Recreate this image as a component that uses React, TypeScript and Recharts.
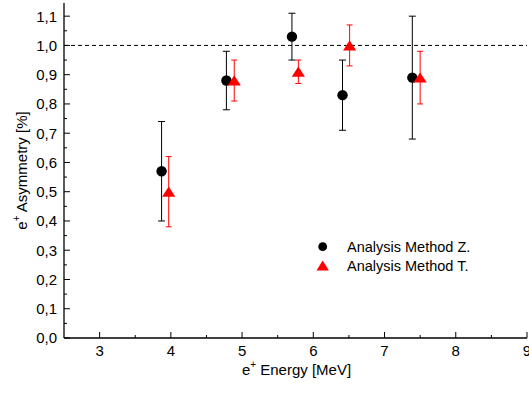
import React from 'react';
import { ScatterChart, Scatter, XAxis, YAxis, ErrorBar, ReferenceLine, Legend } from 'recharts';

// Analysis Method Z. (black circles)
const zEnergy = [3.87, 4.78, 5.70, 6.41, 7.39];
const zAsym = [0.57, 0.88, 1.03, 0.83, 0.89];
const zErr = [0.17, 0.10, 0.08, 0.12, 0.21];

// Analysis Method T. (red triangles)
const tEnergy = [3.97, 4.89, 5.79, 6.51, 7.50];
const tAsym = [0.50, 0.88, 0.91, 1.00, 0.89];
const tErr = [0.12, 0.07, 0.04, 0.07, 0.09];

const seriesNames = ['Analysis Method Z.', 'Analysis Method T.'];

const xMajorTicks = [3, 4, 5, 6, 7, 8, 9];
const xMinorTicks = [3.5, 4.5, 5.5, 6.5, 7.5, 8.5];
const yMajorTicks = [0, 0.1, 0.2, 0.3, 0.4, 0.5, 0.6, 0.7, 0.8, 0.9, 1.0, 1.1];
const yMajorLabels = ['0,0', '0,1', '0,2', '0,3', '0,4', '0,5', '0,6', '0,7', '0,8', '0,9', '1,0', '1,1'];
const yMinorTicks = [0.05, 0.15, 0.25, 0.35, 0.45, 0.55, 0.65, 0.75, 0.85, 0.95, 1.05];

const xDomain = [2.5, 9];
const yDomain = [0, 1.145];
const refValue = 1.0;

const zData = zEnergy.map((x, i) => ({ x, y: zAsym[i], err: zErr[i] }));
const tData = tEnergy.map((x, i) => ({ x, y: tAsym[i], err: tErr[i] }));

const xTicks = [...xMajorTicks, ...xMinorTicks].sort((a, b) => a - b);
const yTicks = [...yMajorTicks, ...yMinorTicks].sort((a, b) => a - b);

const FONT = "Arial, 'Liberation Sans', Helvetica, sans-serif";
const MAJOR = 6;
const MINOR = 3;

const isXMajor = (v: number) => xMajorTicks.some((t) => Math.abs(t - v) < 1e-9);
const yMajorIndex = (v: number) => yMajorTicks.findIndex((t) => Math.abs(t - v) < 1e-9);

const BottomTick = (p: any) => {
  const { x, y, payload } = p;
  const major = isXMajor(payload.value);
  return (
    <g>
      <line x1={x} x2={x} y1={y} y2={y - (major ? MAJOR : MINOR)} stroke="#000" strokeWidth={1} />
      {major && (
        <text x={x} y={y + 17.5} textAnchor="middle" fontSize={15} fontFamily={FONT} fill="#000">
          {payload.value}
        </text>
      )}
    </g>
  );
};

const TopTick = (p: any) => {
  const { x, y, payload } = p;
  const major = isXMajor(payload.value);
  return <line x1={x} x2={x} y1={y} y2={y + (major ? MAJOR : MINOR)} stroke="#000" strokeWidth={1} />;
};

const LeftTick = (p: any) => {
  const { x, y, payload } = p;
  const idx = yMajorIndex(payload.value);
  const major = idx >= 0;
  return (
    <g>
      <line x1={x} x2={x + (major ? MAJOR : MINOR)} y1={y} y2={y} stroke="#000" strokeWidth={1} />
      {major && (
        <text x={x - 7} y={y + 5.4} textAnchor="end" fontSize={15} fontFamily={FONT} fill="#000">
          {yMajorLabels[idx]}
        </text>
      )}
    </g>
  );
};

const RightTick = (p: any) => {
  const { x, y, payload } = p;
  const major = yMajorIndex(payload.value) >= 0;
  return <line x1={x} x2={x - (major ? MAJOR : MINOR)} y1={y} y2={y} stroke="#000" strokeWidth={1} />;
};

const XLabel = (p: any) => {
  const vb = p.viewBox || { x: 64, y: 338, width: 463, height: 58 };
  const cx = vb.x + vb.width / 2 + 1;
  const cy = vb.y + 36.5;
  return (
    <text x={cx} y={cy} textAnchor="middle" fontSize={15} fontFamily={FONT} fill="#000">
      <tspan>e</tspan>
      <tspan fontSize={10} dy={-7}>+</tspan>
      <tspan dy={7}> Energy [MeV]</tspan>
    </text>
  );
};

const YLabel = (p: any) => {
  const vb = p.viewBox || { x: 0, y: 3, width: 64, height: 335 };
  const cx = vb.x + 26.5;
  const cy = vb.y + vb.height / 2;
  return (
    <text
      x={cx}
      y={cy}
      transform={`rotate(-90, ${cx}, ${cy})`}
      textAnchor="middle"
      fontSize={15}
      fontFamily={FONT}
      fill="#000"
    >
      <tspan>e</tspan>
      <tspan fontSize={10} dy={-7}>+</tspan>
      <tspan dy={7}> Asymmetry [%]</tspan>
    </text>
  );
};

const CircleShape = (p: any) => <circle cx={p.cx} cy={p.cy} r={5.2} fill="#000" />;
const TriangleShape = (p: any) => {
  const { cx, cy } = p;
  return <path d={`M${cx},${cy - 5.2}L${cx + 6.6},${cy + 5}L${cx - 6.6},${cy + 5}Z`} fill="#ff0000" />;
};

const LegendContent = () => (
  <svg width={200} height={40} style={{ display: 'block', overflow: 'visible' }}>
    <circle cx={12.7} cy={10.7} r={4.4} fill="#000" />
    <text x={37} y={16} fontSize={14.5} fontFamily={FONT} fill="#000">
      {seriesNames[0]}
    </text>
    <path d="M12.7,24.5L18.9,34.5L6.5,34.5Z" fill="#ff0000" />
    <text x={37} y={35} fontSize={14.5} fontFamily={FONT} fill="#000">
      {seriesNames[1]}
    </text>
  </svg>
);

export default function App() {
  return (
    <div style={{ position: 'absolute', left: 0, top: 0, background: '#fff' }}>
      <ScatterChart width={529} height={396} margin={{ top: 3, right: 2, bottom: 0, left: 0 }}>
        <XAxis
          xAxisId={0}
          dataKey="x"
          type="number"
          domain={xDomain}
          allowDataOverflow
          ticks={xTicks}
          interval={0}
          height={58}
          tickSize={0}
          tickMargin={0}
          tickLine={false}
          axisLine={{ stroke: '#000', strokeWidth: 1.3 }}
          tick={<BottomTick />}
          label={<XLabel />}
        />
        <XAxis
          xAxisId="top"
          orientation="top"
          type="number"
          domain={xDomain}
          allowDataOverflow
          ticks={xTicks}
          interval={0}
          height={0}
          tickSize={0}
          tickMargin={0}
          tickLine={false}
          axisLine={{ stroke: '#000', strokeWidth: 1.3 }}
          tick={<TopTick />}
        />
        <YAxis
          yAxisId={0}
          dataKey="y"
          type="number"
          domain={yDomain}
          allowDataOverflow
          ticks={yTicks}
          interval={0}
          width={64}
          tickSize={0}
          tickMargin={0}
          tickLine={false}
          axisLine={{ stroke: '#000', strokeWidth: 1.3 }}
          tick={<LeftTick />}
          label={<YLabel />}
        />
        <YAxis
          yAxisId="right"
          orientation="right"
          type="number"
          domain={yDomain}
          allowDataOverflow
          ticks={yTicks}
          interval={0}
          width={0}
          tickSize={0}
          tickMargin={0}
          tickLine={false}
          axisLine={{ stroke: '#000', strokeWidth: 1.3 }}
          tick={<RightTick />}
        />
        <ReferenceLine y={refValue} stroke="#000" strokeWidth={1} strokeDasharray="4 3" />
        <Scatter name={seriesNames[0]} data={zData} shape={<CircleShape />} isAnimationActive={false}>
          <ErrorBar dataKey="err" direction="y" width={3.5} stroke="#000" strokeWidth={1} isAnimationActive={false} />
        </Scatter>
        <Scatter name={seriesNames[1]} data={tData} shape={<TriangleShape />} isAnimationActive={false}>
          <ErrorBar dataKey="err" direction="y" width={3} stroke="#ff0000" strokeWidth={1} isAnimationActive={false} />
        </Scatter>
        <Legend
          layout="vertical"
          align="center"
          verticalAlign="middle"
          content={<LegendContent />}
          wrapperStyle={{ position: 'absolute', left: 310, top: 236, width: 200, height: 40 }}
        />
      </ScatterChart>
    </div>
  );
}
